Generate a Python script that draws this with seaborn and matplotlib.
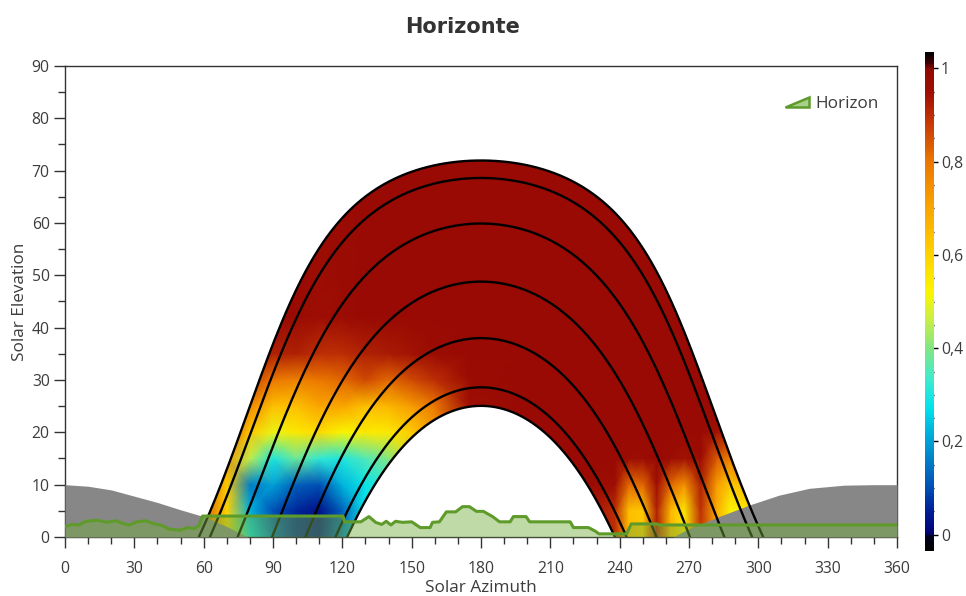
import numpy as np
import pandas as pd
import matplotlib
matplotlib.use("Agg")
import matplotlib.pyplot as plt
import seaborn as sns
from matplotlib.colors import LinearSegmentedColormap, Normalize
from matplotlib.patches import Polygon, Patch
from matplotlib.ticker import MultipleLocator, FixedLocator
from matplotlib.legend_handler import HandlerBase

# ------------------------------------------------------------------ data
latitude = 41.5
# sun-path declinations (21st of each month), read from peak elevations 72,68.5,59.5,49,38.5,29,25
path_declinations = [23.44, 20.1, 11.4, 0.3, -10.5, -19.9, -23.44]

horizon_az = [0, 3, 6, 9, 14, 18, 22, 25, 28, 31, 35, 38, 42, 45, 50, 53, 56, 58, 59.5,
              120.3, 121, 128, 131.5, 134.4, 137, 139, 141, 143, 146, 150, 153.7, 158, 159,
              162, 165, 169, 172, 175, 178, 181, 185, 188, 192.6, 194, 199.5, 201, 218.6,
              220, 226.5, 229.5, 231, 243, 245, 256, 257, 360]
horizon_el = [2.0, 2.4, 2.3, 3.0, 3.2, 2.8, 3.1, 2.6, 2.3, 2.9, 3.1, 2.6, 2.2, 1.5, 1.3, 1.8, 1.6, 2.2, 4.0,
              4.0, 2.9, 2.9, 3.9, 2.8, 2.4, 3.0, 2.3, 3.0, 2.8, 2.9, 1.8, 1.8, 2.8,
              2.9, 4.8, 4.8, 5.8, 5.8, 4.9, 4.9, 3.9, 2.9, 2.9, 3.9, 3.9, 2.9, 2.9,
              1.8, 1.8, 1.1, 0.6, 0.6, 2.5, 2.5, 2.3, 2.3]

grey_left_az = [0, 10, 20, 30, 40, 50, 60, 70, 79]
grey_left_el = [10.0, 9.7, 9.0, 7.8, 6.6, 5.2, 3.9, 2.0, 0.0]
grey_right_az = [263, 270, 283, 296, 309, 322, 337, 350, 360]
grey_right_el = [0.0, 1.6, 3.9, 6.1, 8.0, 9.3, 9.9, 10.0, 10.0]

shade_az = [50, 60, 70, 80, 90, 100, 110, 120, 130, 140, 150, 160, 175, 200, 225,
            238, 244, 250, 256, 262, 268, 275, 282, 288, 295, 302, 312]
shade_el = [0, 5, 10, 15, 20, 25, 30, 35, 42, 80]
shade_e00 = [0.86, 0.84, 0.60, 0.28, 0.14, 0.06, 0.04, 0.15, 0.30, 0.40, 0.50, 0.70, 0.95, 0.98, 0.95,
             0.90, 0.66, 0.62, 0.92, 0.66, 0.56, 0.88, 0.70, 0.54, 0.56, 0.70, 0.80]
shade_e05 = [0.86, 0.84, 0.60, 0.22, 0.10, 0.06, 0.03, 0.12, 0.28, 0.35, 0.50, 0.70, 0.95, 0.98, 0.95,
             0.90, 0.64, 0.62, 0.92, 0.66, 0.55, 0.90, 0.68, 0.52, 0.55, 0.70, 0.80]
shade_e10 = [0.86, 0.84, 0.62, 0.16, 0.20, 0.12, 0.10, 0.22, 0.28, 0.32, 0.45, 0.70, 0.95, 0.98, 0.97,
             0.95, 0.82, 0.82, 0.95, 0.82, 0.74, 0.92, 0.72, 0.62, 0.66, 0.78, 0.85]
shade_e15 = [0.86, 0.84, 0.72, 0.45, 0.30, 0.38, 0.32, 0.30, 0.35, 0.40, 0.55, 0.72, 0.95, 0.98, 0.98,
             0.98, 0.96, 0.96, 0.98, 0.96, 0.94, 0.96, 0.84, 0.78, 0.86, 0.92, 0.94]
shade_e20 = [0.88, 0.87, 0.84, 0.62, 0.50, 0.55, 0.58, 0.52, 0.55, 0.55, 0.62, 0.72, 0.95, 0.98, 0.98,
             0.98, 0.98, 0.98, 0.98, 0.98, 0.98, 0.98, 0.94, 0.92, 0.95, 0.97, 0.97]
shade_e25 = [0.90, 0.90, 0.88, 0.76, 0.64, 0.64, 0.70, 0.70, 0.64, 0.66, 0.72, 0.80, 0.95, 0.98, 0.98,
             0.98, 0.98, 0.98, 0.98, 0.98, 0.98, 0.98, 0.98, 0.98, 0.98, 0.98, 0.98]
shade_e30 = [0.95, 0.95, 0.93, 0.88, 0.80, 0.78, 0.80, 0.82, 0.86, 0.82, 0.86, 0.90, 0.96, 0.98, 0.98,
             0.98, 0.98, 0.98, 0.98, 0.98, 0.98, 0.98, 0.98, 0.98, 0.98, 0.98, 0.98]
shade_e35 = [0.98, 0.97, 0.96, 0.95, 0.92, 0.92, 0.90, 0.90, 0.92, 0.93, 0.94, 0.96, 0.98, 0.98, 0.98,
             0.98, 0.98, 0.98, 0.98, 0.98, 0.98, 0.98, 0.98, 0.98, 0.98, 0.98, 0.98]
shade_e42 = [0.98, 0.98, 0.98, 0.98, 0.98, 0.97, 0.95, 0.96, 0.98, 0.98, 0.98, 0.98, 0.98, 0.98, 0.98,
             0.98, 0.98, 0.98, 0.98, 0.98, 0.98, 0.98, 0.98, 0.98, 0.98, 0.98, 0.98]
shade_e80 = [0.98, 0.98, 0.98, 0.98, 0.98, 0.98, 0.98, 0.98, 0.98, 0.98, 0.98, 0.98, 0.98, 0.98, 0.98,
             0.98, 0.98, 0.98, 0.98, 0.98, 0.98, 0.98, 0.98, 0.98, 0.98, 0.98, 0.98]

cbar_ticks = [0, 0.2, 0.4, 0.6, 0.8, 1.0]
cbar_labels = ["0", "0,2", "0,4", "0,6", "0,8", "1"]

# ------------------------------------------------------------------ styling
sns.set_theme(style="white")
plt.rcParams["font.family"] = ["Open Sans", "DejaVu Sans"]
TXT = "#3c3c3c"
TICK_FS = 11.3
LABEL_FS = 12.3

vmin, vmax = -0.035, 1.035
stops = [(-0.035, (0, 0, 0)), (-0.006, (0, 0, 30)), (0.0, (0, 0, 115)), (0.05, (0, 30, 150)),
         (0.1, (0, 80, 180)), (0.2, (0, 160, 215)), (0.27, (0, 225, 235)), (0.33, (60, 235, 210)),
         (0.4, (130, 230, 130)), (0.47, (210, 240, 60)), (0.52, (250, 245, 0)), (0.6, (255, 210, 0)),
         (0.7, (250, 165, 0)), (0.8, (235, 120, 0)), (0.88, (200, 60, 5)), (0.95, (158, 14, 4)),
         (1.0, (148, 8, 2)), (1.015, (60, 0, 0)), (1.035, (0, 0, 0))]
cmap = LinearSegmentedColormap.from_list(
    "shade", [((v - vmin) / (vmax - vmin), tuple(c / 255 for c in col)) for v, col in stops])
norm = Normalize(vmin=vmin, vmax=vmax)


def sun_path(dec, lat, n=721):
    phi, d = np.radians(lat), np.radians(dec)
    h0 = np.arccos(-np.tan(phi) * np.tan(d))
    h = np.linspace(-h0, h0, n)
    sin_el = np.sin(phi) * np.sin(d) + np.cos(phi) * np.cos(d) * np.cos(h)
    el = np.degrees(np.arcsin(np.clip(sin_el, -1, 1)))
    az = np.degrees(np.arctan2(np.sin(h), np.cos(h) * np.sin(phi) - np.tan(d) * np.cos(phi))) + 180
    el[0] = el[-1] = 0.0
    return az, el


fig = plt.figure(figsize=(9.66, 5.96), dpi=100)
ax = fig.add_axes([0.0673, 0.099, 0.8613, 0.7903])

# band clip polygon (summer path + reversed winter path)
az_s, el_s = sun_path(path_declinations[0], latitude)
az_w, el_w = sun_path(path_declinations[-1], latitude)
band = Polygon(np.column_stack([np.concatenate([az_s, az_w[::-1]]),
                                np.concatenate([el_s, el_w[::-1]])]),
               closed=True, transform=ax.transData)

# white rim under the winter path
ax.plot(az_w, el_w, color="white", lw=4.5, zorder=1)

grid = np.array([shade_e00, shade_e05, shade_e10, shade_e15, shade_e20, shade_e25,
                 shade_e30, shade_e35, shade_e42, shade_e80])
qm = ax.pcolormesh(shade_az, shade_el, grid, shading="gouraud", cmap=cmap, norm=norm,
                   zorder=2, rasterized=True)
qm.set_clip_path(band)

# grey areas
ax.fill_between(grey_left_az, 0, grey_left_el, color="#878787", lw=0, zorder=3)
ax.fill_between(grey_right_az, 0, grey_right_el, color="#878787", lw=0, zorder=3)

# sun paths
for dec in path_declinations:
    az, el = sun_path(dec, latitude)
    df = pd.DataFrame({"az": az, "el": el})
    sns.lineplot(data=df, x="az", y="el", sort=False, estimator=None, color="black",
                 lw=1.7, ax=ax, zorder=4)

# horizon
hz = pd.DataFrame({"az": horizon_az, "el": horizon_el})
ax.fill_between(hz["az"], 0, hz["el"], color="#74ad3c", alpha=0.45, lw=0, zorder=5)
sns.lineplot(data=hz, x="az", y="el", sort=False, estimator=None, color="#5e9b2a",
             lw=2.2, ax=ax, zorder=6)

ax.set_xlim(0, 360)
ax.set_ylim(0, 90)
ax.xaxis.set_major_locator(MultipleLocator(30))
ax.xaxis.set_minor_locator(MultipleLocator(10))
ax.yaxis.set_major_locator(MultipleLocator(10))
ax.yaxis.set_minor_locator(MultipleLocator(5))
ax.tick_params(axis="x", which="major", length=8, width=1, color="#333333", direction="out",
               labelsize=TICK_FS, labelcolor=TXT, bottom=True, pad=9.5)
ax.tick_params(axis="y", which="major", length=8, width=1, color="#333333", direction="out",
               labelsize=TICK_FS, labelcolor=TXT, left=True, pad=3)
ax.tick_params(which="minor", length=5, width=1, color="#333333", direction="out",
               bottom=True, left=True)
for s in ax.spines.values():
    s.set_color("#333333")
    s.set_linewidth(1.0)
ax.set_xlabel("Solar Azimuth", fontsize=LABEL_FS, color=TXT, va="center")
ax.xaxis.set_label_coords(0.5, -0.108)
ax.set_ylabel("Solar Elevation", fontsize=LABEL_FS, color=TXT, labelpad=3)


class WedgeHandler(HandlerBase):
    def create_artists(self, legend, orig_handle, xdescent, ydescent, width, height, fontsize, trans):
        x0, y0 = -xdescent, -ydescent
        p = Polygon([[x0, y0 + 0.1 * height], [x0 + width, y0 + 0.1 * height],
                     [x0 + width, y0 + 0.85 * height]], closed=True,
                    facecolor="#a9d08a", edgecolor="#5e9b2a", lw=1.8, transform=trans)
        return [p]


ax.legend([Patch()], ["Horizon"], handler_map={Patch: WedgeHandler()}, loc="upper right",
          bbox_to_anchor=(0.996, 0.972), frameon=False, handlelength=1.4, handleheight=0.9,
          handletextpad=0.35, prop={"size": LABEL_FS}, labelcolor=TXT)

# colorbar
cax = fig.add_axes([0.9576, 0.0755, 0.0093, 0.837])
cb = fig.colorbar(qm, cax=cax)
cb.outline.set_visible(False)
cb.set_ticks(cbar_ticks)
cb.set_ticklabels(cbar_labels)
cax.yaxis.set_minor_locator(FixedLocator([v for v in np.arange(0.05, 1.0, 0.05)
                                          if abs(v / 0.2 - round(v / 0.2)) > 1e-6]))
cax.tick_params(which="major", length=6, width=1, color="black", direction="inout",
                labelsize=TICK_FS, labelcolor=TXT, pad=2)
cax.tick_params(which="minor", length=3, width=1, color="black", direction="in")

fig.text(0.479, 0.955, "Horizonte", ha="center", va="center", fontsize=15,
         fontweight="bold", color="#333333", family="DejaVu Sans")

fig.savefig("out.png", dpi=100)
